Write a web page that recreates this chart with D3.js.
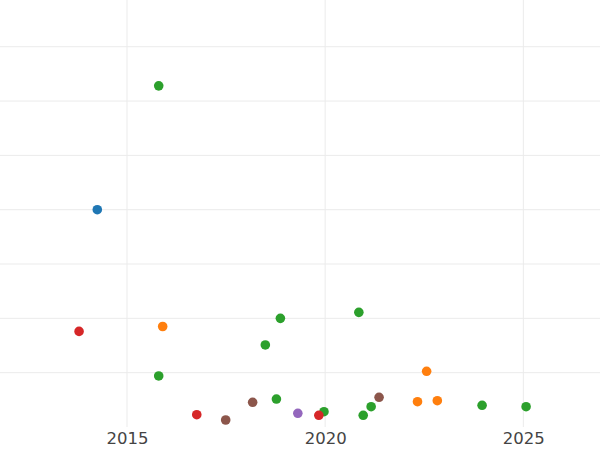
<!DOCTYPE html>
<html>
<head>
<meta charset="utf-8">
<script src="https://cdn.jsdelivr.net/npm/d3@7"></script>
<style>
html, body { margin: 0; padding: 0; background: #fff; }
svg { display: block; }
</style>
</head>
<body>
<svg id="chart" width="600" height="450"></svg>
<script>
// Series data (x = fractional year, y = value)
const seriesNames = ["blue", "orange", "green", "red", "purple", "brown"];
const seriesColors = ["#1f77b4", "#ff7f0e", "#2ca02c", "#d62728", "#9467bd", "#8c564b"];

const blueX = [2014.25];
const blueY = [400];

const orangeX = [2015.90, 2022.33, 2022.56, 2022.83];
const orangeY = [185, 46.6, 102.5, 48.4];

const greenX = [2015.80, 2018.87, 2018.49, 2015.80, 2018.77, 2019.97, 2020.85, 2020.96, 2021.16, 2023.96, 2025.07];
const greenY = [628, 200, 151, 94, 51.5, 28.2, 211, 21.5, 37.4, 39.9, 37.4];

const redX = [2013.79, 2016.76, 2019.84];
const redY = [176, 22.6, 21.5];

const purpleX = [2019.31];
const purpleY = [25.2];

const brownX = [2018.17, 2017.49, 2021.36];
const brownY = [45.5, 12.9, 54.7];

const xTicks = [2015, 2020, 2025];
const yTicks = [100, 200, 300, 400, 500, 600, 700];

const allX = [blueX, orangeX, greenX, redX, purpleX, brownX];
const allY = [blueY, orangeY, greenY, redY, purpleY, brownY];

const W = 600, H = 450;
const margin = { top: 0, right: 0, bottom: 23, left: 0 };
const plotBottom = H - margin.bottom; // 427

const x = d3.scaleLinear().domain([2011.795, 2026.935]).range([margin.left, W - margin.right]);
const y = d3.scaleLinear().domain([0, 786]).range([plotBottom, margin.top]);

const svg = d3.select("#chart");

// grid
const grid = svg.append("g");
grid.selectAll("line.h").data(yTicks).join("line")
  .attr("x1", 0).attr("x2", W)
  .attr("y1", d => y(d)).attr("y2", d => y(d))
  .attr("stroke", "#ebebeb").attr("stroke-width", 1);
grid.selectAll("line.v").data(xTicks).join("line")
  .attr("y1", margin.top).attr("y2", plotBottom)
  .attr("x1", d => x(d)).attr("x2", d => x(d))
  .attr("stroke", "#ebebeb").attr("stroke-width", 1);

// x axis
const xAxis = d3.axisBottom(x).tickValues(xTicks).tickFormat(d3.format("d")).tickSize(0).tickPadding(5);
const gx = svg.append("g").attr("transform", `translate(0,${plotBottom})`).call(xAxis);
gx.select(".domain").remove();
gx.selectAll("text")
  .attr("font-family", "DejaVu Sans, sans-serif")
  .attr("font-size", "16.5px")
  .attr("fill", "#444");

// points
const pts = svg.append("g");
seriesNames.forEach((name, i) => {
  const data = allX[i].map((xv, j) => ({ x: xv, y: allY[i][j] }));
  pts.append("g").attr("class", name).selectAll("circle").data(data).join("circle")
    .attr("cx", d => x(d.x))
    .attr("cy", d => y(d.y))
    .attr("r", 4.8)
    .attr("fill", seriesColors[i]);
});
</script>
</body>
</html>
